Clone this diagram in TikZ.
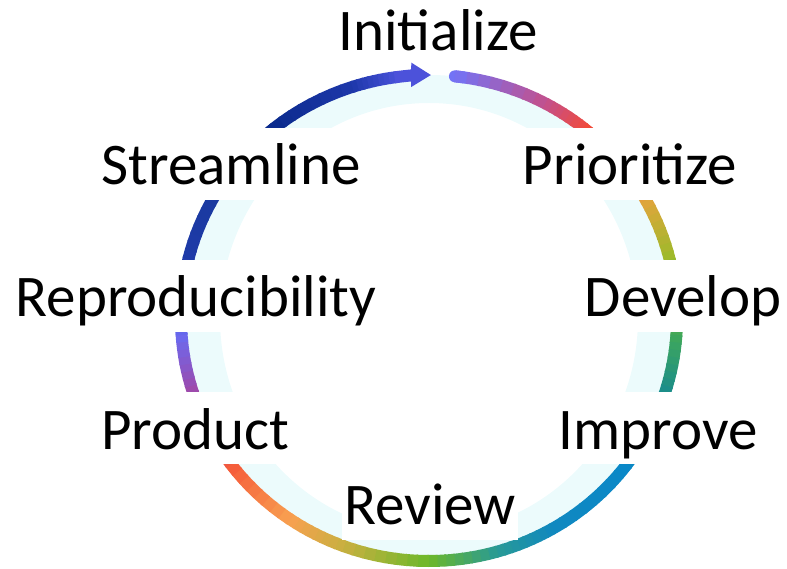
\documentclass[tikz,border=0pt]{standalone}
\usepackage{fontspec}
\setmainfont{Carlito}
\usetikzlibrary{arrows.meta}

% colours along the ring, clockwise from the top
\definecolor{haze}{RGB}{236,251,252}
\definecolor{c0}{RGB}{115,115,245}
\definecolor{c1}{RGB}{195,80,140}
\definecolor{c2}{RGB}{244,74,53}
\definecolor{c3}{RGB}{225,165,60}
\definecolor{c4}{RGB}{156,186,42}
\definecolor{c5}{RGB}{63,168,90}
\definecolor{c6}{RGB}{26,140,140}
\definecolor{c7}{RGB}{10,136,200}
\definecolor{c8}{RGB}{16,136,192}
\definecolor{c9}{RGB}{40,154,150}
\definecolor{c10}{RGB}{108,184,42}
\definecolor{c11}{RGB}{200,176,64}
\definecolor{c12}{RGB}{248,160,80}
\definecolor{c13}{RGB}{245,90,58}
\definecolor{c14}{RGB}{160,72,168}
\definecolor{c15}{RGB}{106,106,240}
\definecolor{c16}{RGB}{30,58,168}
\definecolor{c17}{RGB}{26,58,160}
\definecolor{c18}{RGB}{10,42,140}
\definecolor{c19}{RGB}{30,56,170}
\definecolor{c20}{RGB}{70,80,215}
\definecolor{tip}{RGB}{76,82,218}

\begin{document}
\begin{tikzpicture}[x=1pt, y=1pt,
  stage/.style={font=\fontsize{59}{70}\selectfont, fill=white, anchor=base,
    inner xsep=2pt, inner ysep=0pt, text height=57pt, text depth=15pt},
  band/.style={line width=12pt}]

  \useasboundingbox (0,0) rectangle (787,568);

  % pale glow on the inside of the ring
  \fill [haze, even odd rule] (429,250) ellipse [x radius=248, y radius=243]
    (429,250) ellipse [x radius=209, y radius=215];

  \begin{scope}[shift={(429,250)}]
    % start of the ring, round end
    \draw [band, c0, line cap=round] (84:248 and 243)
      arc [start angle=84, end angle=82, x radius=248, y radius=243];

    % ring in short pieces, colour blended between stops
    \foreach \a/\b/\ca/\cb in {84/62/c0/c1, 62/50/c1/c2, 50/29/c2/c3,
        29/14/c3/c4, 14/-4/c4/c5, -4/-18/c5/c6, -18/-37/c6/c7,
        -37/-60/c7/c8, -60/-74/c8/c9, -74/-90/c9/c10, -90/-110/c10/c11,
        -110/-124/c11/c12, -124/-143/c12/c13, -143/-162/c13/c14,
        -162/-176/c14/c15, -176/-194/c15/c16, -194/-210/c16/c17,
        -210/-231/c17/c18, -231/-252/c18/c19, -252/-262/c19/c20}{
      \foreach \i in {0,...,7}{
        \pgfmathsetmacro\s{\a-(\a-\b)*\i/8}
        \pgfmathsetmacro\e{\a-(\a-\b)*(\i+1)/8-0.4}
        \pgfmathtruncatemacro\p{94-12.5*\i}
        \draw [band, draw=\ca!\p!\cb] (\s:248 and 243)
          arc [start angle=\s, end angle=\e, x radius=248, y radius=243];
      }
    }

    % arrow head at the top
    \draw [band, tip, -{Triangle[length=20pt, width=23pt]}] (-262:248 and 243)
      arc [start angle=-262, end angle=-270.5, x radius=248, y radius=243];
  \end{scope}

  % stages
  \node [stage, fill=none] (init) at (438,517) {Initialize};
  \node [stage] (stream) at (231,383) {Streamline};
  \node [stage] (prior) at (630,383) {Prioritize};
  \node [stage] (repro) at (196,251) {Reproducibility};
  \node [stage] (devel) at (683,251) {Develop};
  \node [stage] (prod) at (195,119) {Product};
  \node [stage] (impr) at (658,119) {Improve};
  \node [stage, text height=38pt, text depth=16pt] (review) at (430,44) {Review};

\end{tikzpicture}
\end{document}
